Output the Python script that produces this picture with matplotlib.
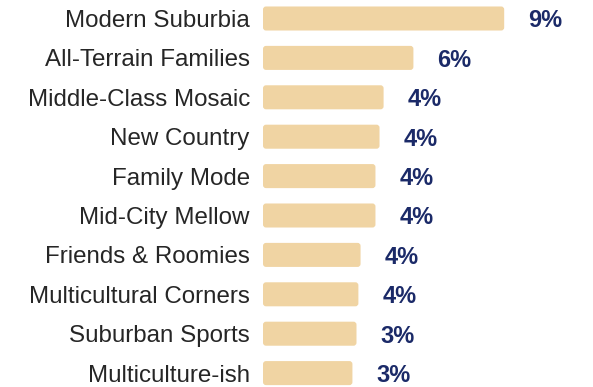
import matplotlib
matplotlib.use("Agg")
import matplotlib.pyplot as plt
from matplotlib.patches import FancyBboxPatch

plt.rcParams['font.family'] = ['Liberation Sans', 'DejaVu Sans']

segments = [
    "Modern Suburbia",
    "All-Terrain Families",
    "Middle-Class Mosaic",
    "New Country",
    "Family Mode",
    "Mid-City Mellow",
    "Friends & Roomies",
    "Multicultural Corners",
    "Suburban Sports",
    "Multiculture-ish",
]
shares = [8.9, 5.55, 4.45, 4.3, 4.15, 4.15, 3.6, 3.52, 3.45, 3.3]

bar_color = "#F0D4A3"
value_color = "#1B2A68"
label_color = "#262626"

fig = plt.figure(figsize=(5.93, 3.87), dpi=100)
W, H = 593, 387
row_px = 39.4
x_scale = 27.1  # pixels per percent point
ax_left = 263
ax = fig.add_axes([ax_left / W, 0, (W - ax_left) / W, 1])

top = -18.5 / row_px
ax.set_ylim(top + H / row_px, top)
ax.set_xlim(0, (W - ax_left) / x_scale)

ypos = list(range(len(segments)))
bars = ax.barh(ypos, shares, height=0.61, color=bar_color)

# swap the plain rectangles for rounded ones
radius_x = 3.0 / x_scale
aspect = (1 / row_px) / (1 / x_scale)
for b in bars:
    x0, y0 = b.get_x(), b.get_y()
    w, h = b.get_width(), b.get_height()
    b.set_visible(False)
    ax.add_patch(FancyBboxPatch(
        (x0 + radius_x, y0 + radius_x * aspect),
        w - 2 * radius_x, h - 2 * radius_x * aspect,
        boxstyle=f"round,pad={radius_x}",
        mutation_aspect=aspect,
        facecolor=bar_color, edgecolor="none"))

for y, v in zip(ypos, shares):
    ax.text(v + 24 / x_scale, y, f"{v:.0f}%", va="center_baseline", ha="left",
            fontsize=17, fontweight="bold", color=value_color)

ax.set_yticks(ypos)
ax.set_yticklabels(segments, fontsize=17.4, color=label_color)
ax.tick_params(axis="y", length=0, pad=9.5)
ax.set_xticks([])
for s in ax.spines.values():
    s.set_visible(False)

fig.savefig("out.png", dpi=100)
